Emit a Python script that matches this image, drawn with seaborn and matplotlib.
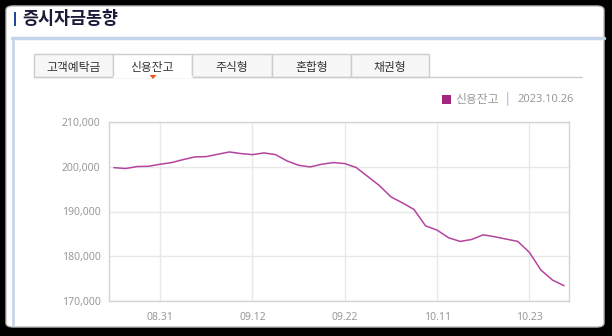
import matplotlib
matplotlib.use("Agg")
import matplotlib.pyplot as plt
import seaborn as sns
import pandas as pd
from matplotlib.patches import Rectangle, FancyBboxPatch, Polygon

dates = ["08.25", "08.28", "08.29", "08.30", "08.31", "09.01", "09.04", "09.05",
         "09.06", "09.07", "09.08", "09.11", "09.12", "09.13", "09.14", "09.15",
         "09.18", "09.19", "09.20", "09.21", "09.22", "09.25", "09.26", "09.27",
         "10.04", "10.05", "10.06", "10.10", "10.11", "10.12", "10.13", "10.16",
         "10.17", "10.18", "10.19", "10.20", "10.23", "10.24", "10.25", "10.26"]
credit_balance = [199800, 199600, 200040, 200110, 200560, 200930, 201600, 202190,
                  202270, 202790, 203310, 202940, 202710, 203090, 202710, 201300,
                  200330, 199960, 200560, 200930, 200710, 199810, 197810, 195800,
                  193270, 191930, 190450, 186800, 185840, 184130, 183310, 183750,
                  184800, 184350, 183830, 183310, 180850, 176910, 174680, 173420]
tick_dates = ["08.31", "09.12", "09.22", "10.11", "10.23"]
y_ticks = [170000, 180000, 190000, 200000, 210000]
tabs = ["고객예탁금", "신용잔고", "주식형", "혼합형", "채권형"]
title = "증시자금동향"
series_name = "신용잔고"
as_of = "2023.10.26"

sns.set_theme(style="white")
plt.rcParams['font.family'] = ['Noto Sans CJK KR', 'DejaVu Sans']

W, H = 612, 336
fig = plt.figure(figsize=(W / 100, H / 100), dpi=100)
fig.patch.set_facecolor("black")


def fx(x):
    return x / W


def fy(y):
    return 1 - y / H


# white panel
fig.patches.append(FancyBboxPatch((fx(6), fy(327)), fx(598), 321 / H,
                                  boxstyle="round,pad=0,rounding_size=0.012",
                                  transform=fig.transFigure, facecolor="white",
                                  edgecolor="#bbbbbb", linewidth=1.0, zorder=0))

# title
fig.patches.append(Rectangle((fx(14), fy(26)), fx(2.5), 14 / H, transform=fig.transFigure,
                             facecolor="#1f4a9a", edgecolor="none", zorder=2))
fig.text(fx(22), fy(19), title, fontsize=12.5, fontweight="bold", color="#1a1a3a",
         ha="left", va="center")

# light blue box border
fig.add_artist(plt.Line2D([fx(12), fx(604)], [fy(37.5), fy(37.5)], transform=fig.transFigure,
                          color="#c6d6ea", linewidth=2.5))
fig.add_artist(plt.Line2D([fx(13), fx(13)], [fy(37.5), fy(325)], transform=fig.transFigure,
                          color="#c6d6ea", linewidth=2.0))

# tabs
tab_edges = [34, 113, 192, 272, 351, 429]
for i, name in enumerate(tabs):
    x0, x1 = tab_edges[i], tab_edges[i + 1]
    selected = (i == 1)
    fig.patches.append(Rectangle((fx(x0), fy(77)), fx(x1 - x0), 23 / H, transform=fig.transFigure,
                                 facecolor="white" if selected else "#f7f7f7",
                                 edgecolor="#cccccc", linewidth=1.0, zorder=2))
    fig.text(fx((x0 + x1) / 2), fy(67), name, fontsize=8.5, color="#333333",
             ha="center", va="center", zorder=3)
fig.add_artist(plt.Line2D([fx(34), fx(113)], [fy(77), fy(77)], transform=fig.transFigure,
                          color="#cccccc", linewidth=1.0, zorder=3))
fig.add_artist(plt.Line2D([fx(192), fx(582)], [fy(77), fy(77)], transform=fig.transFigure,
                          color="#cccccc", linewidth=1.0, zorder=3))
fig.add_artist(plt.Line2D([fx(113.5), fx(191.5)], [fy(77), fy(77)], transform=fig.transFigure,
                          color="white", linewidth=1.5, zorder=4))
fig.patches.append(Polygon([(fx(149.5), fy(75)), (fx(156.5), fy(75)), (fx(153), fy(79))],
                           closed=True, transform=fig.transFigure, facecolor="#f05a14",
                           edgecolor="none", zorder=5))

# legend
fig.patches.append(Rectangle((fx(442), fy(104)), fx(9), 9 / H, transform=fig.transFigure,
                             facecolor="#a3267f", edgecolor="none", zorder=2))
fig.text(fx(455), fy(99.5), series_name, fontsize=8.5, color="#999999", ha="left", va="center")
fig.text(fx(508), fy(99.5), "|", fontsize=8.5, color="#a8c4e0", ha="center", va="center",
         fontweight="bold")
fig.text(fx(517), fy(99.5), as_of, fontsize=8, color="#999999", ha="left", va="center",
         fontweight="bold", family="Noto Sans")

# chart
ax = fig.add_axes([fx(109), fy(301), fx(460), 179 / H])
ax.set_zorder(10)
ax.set_facecolor("white")
df = pd.DataFrame({"idx": range(len(dates)), "date": dates, "value": credit_balance})
sns.lineplot(data=df, x="idx", y="value", ax=ax, color="#b4449e", linewidth=1.1)

ax.set_xlim(-0.43, len(dates) - 1 + 0.43)
ax.set_ylim(170000, 210000)
ax.set_yticks(y_ticks)
ax.set_yticklabels([f"{v:,}" for v in y_ticks])
ax.set_xticks([dates.index(d) for d in tick_dates])
ax.set_xticklabels(tick_dates)
ax.set_xlabel("")
ax.set_ylabel("")
ax.grid(True, color="#e8e8e8", linewidth=1.0)
ax.set_axisbelow(True)
for s in ax.spines.values():
    s.set_color("#d4d4d4")
    s.set_linewidth(1.0)
    s.set_visible(True)
ax.tick_params(axis="both", colors="#d0d0d0", labelcolor="#999999", labelsize=7.5,
               length=3, width=1.0, pad=3)
ax.tick_params(axis="x", pad=5)
for lbl in ax.get_xticklabels() + ax.get_yticklabels():
    lbl.set_family("Noto Sans")

fig.savefig("out.png", dpi=100, facecolor=fig.get_facecolor())
